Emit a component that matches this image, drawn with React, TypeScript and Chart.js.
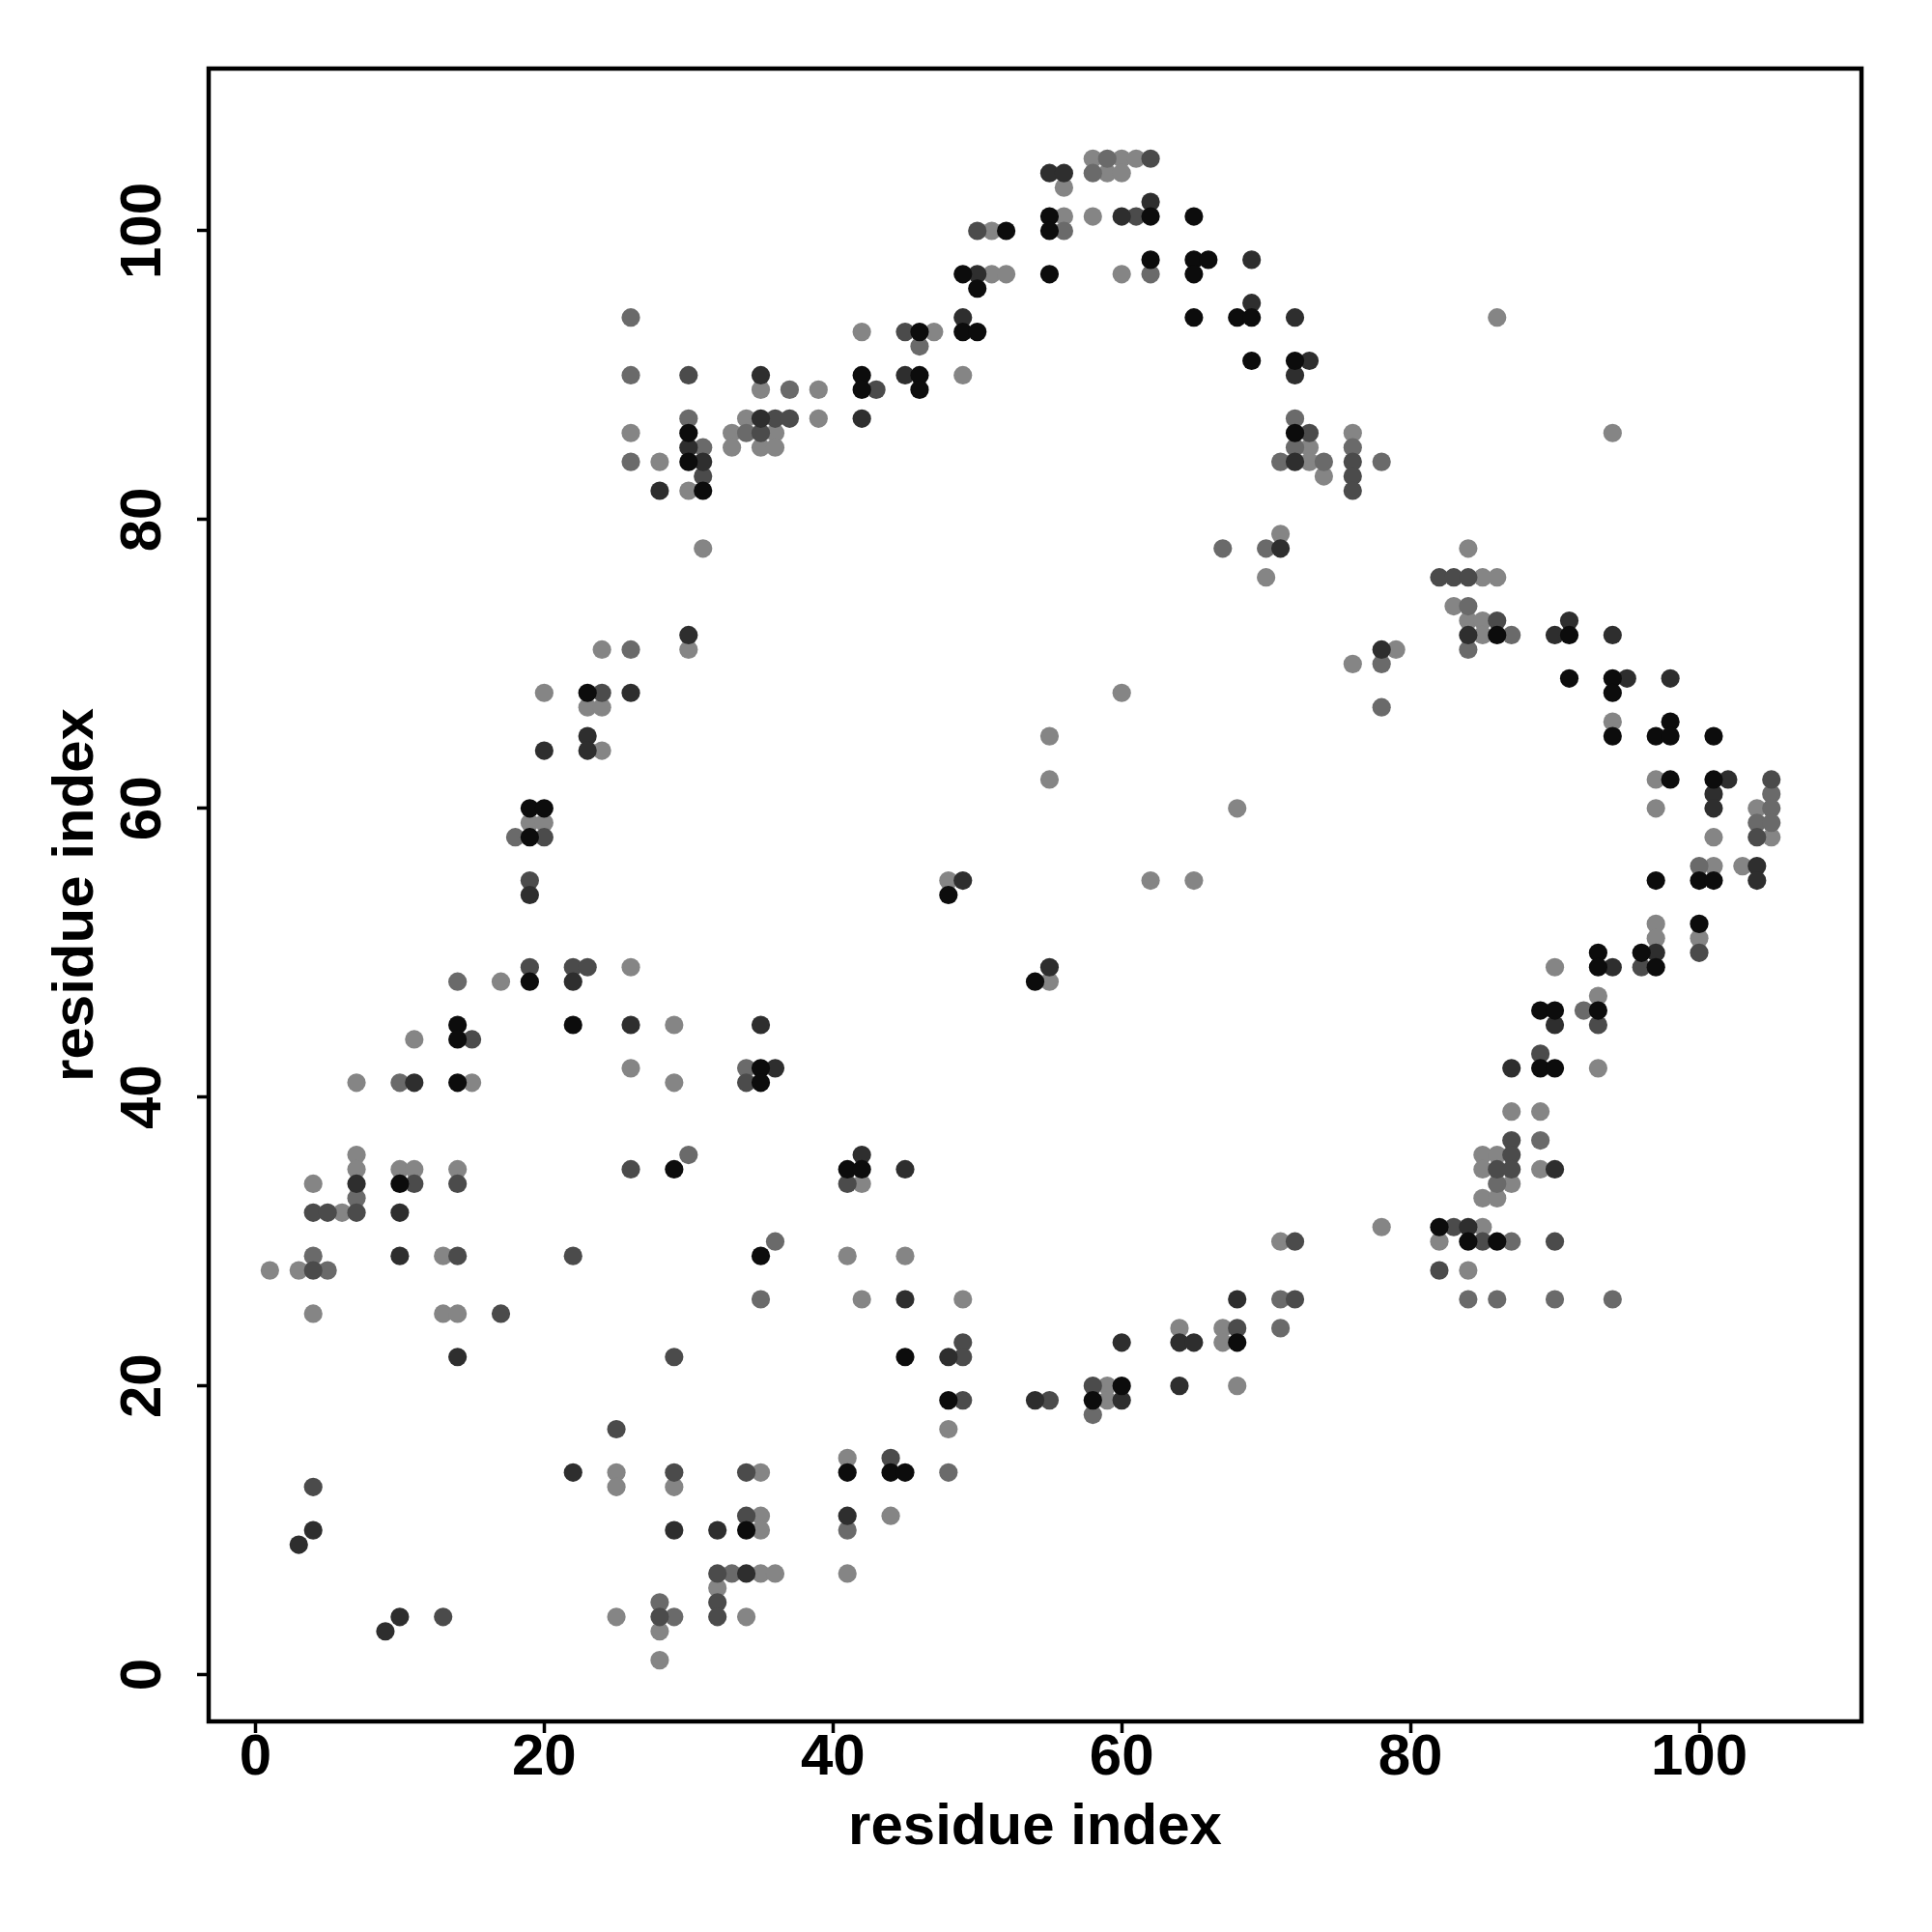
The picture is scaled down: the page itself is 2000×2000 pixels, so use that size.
import React, { useEffect, useRef } from "react";
import { Chart, registerables } from "chart.js";

Chart.register(...registerables);

type Pt = [number, number];

// Contact points grouped by gray shade (x = residue index, y = residue index)
const shadeA: Pt[] = [
  [30, 86], [30, 84], [31, 82],
  [55, 101], [62, 101], [65, 101], [52, 100], [55, 100], [62, 98], [65, 98], [66, 98], [49, 97], [55, 97], [65, 97], [50, 96], [65, 94], [68, 94], [69, 94], [46, 93], [49, 93], [50, 93], [69, 91], [42, 90], [46, 90], [42, 89], [46, 89],
  [72, 91], [72, 86],
  [23, 68], [19, 60], [20, 60], [19, 58],
  [48, 54],
  [86, 72], [91, 72], [91, 69], [94, 69], [94, 68], [98, 66], [94, 65], [97, 65], [98, 65], [101, 65], [98, 62], [101, 62], [97, 55], [100, 55], [101, 55], [100, 52],
  [19, 48], [14, 45], [22, 45], [14, 44], [35, 42], [14, 41], [35, 41], [29, 35], [10, 34], [35, 29],
  [54, 48], [41, 35], [42, 35],
  [93, 50], [96, 50], [93, 49], [97, 49], [89, 46], [90, 46], [93, 46], [89, 42], [90, 42], [82, 31], [84, 30], [86, 30],
  [34, 10],
  [45, 22], [48, 19], [58, 19], [60, 20], [68, 23], [41, 14], [44, 14], [45, 14],
];

const shadeB: Pt[] = [
  [30, 85], [31, 84], [28, 82],
  [55, 104], [56, 104], [62, 102], [60, 101], [50, 97], [69, 98], [49, 94], [45, 90], [35, 90], [42, 87], [35, 87], [69, 95],
  [72, 94], [73, 91], [72, 90], [72, 84],
  [30, 72], [26, 68], [23, 65], [23, 64], [20, 64], [19, 54],
  [49, 55], [71, 78],
  [84, 72], [90, 72], [94, 72], [78, 71], [91, 73], [95, 69], [98, 69], [102, 62], [101, 61], [101, 60], [104, 56], [104, 55],
  [22, 48], [26, 45], [7, 34], [11, 41], [10, 32], [10, 29], [35, 45],
  [55, 49], [36, 42], [42, 36], [45, 35], [45, 26], [68, 26],
  [97, 50], [94, 49], [90, 45], [87, 42], [90, 35], [84, 31],
  [14, 22], [22, 14], [4, 10], [3, 9], [29, 10], [32, 10], [34, 7], [10, 4], [9, 3],
  [60, 23], [64, 23], [65, 23], [48, 22], [54, 19], [60, 19], [64, 20], [41, 11],
];

const shadeC: Pt[] = [
  [30, 90], [31, 83],
  [50, 100], [45, 93], [61, 101], [62, 105], [43, 89], [36, 87], [37, 87], [35, 86],
  [73, 86], [76, 84], [76, 83], [76, 82],
  [24, 68], [20, 58], [19, 55],
  [82, 76], [83, 76], [84, 76], [86, 73], [104, 58], [105, 62],
  [19, 49], [22, 49], [23, 49], [15, 44], [34, 41], [26, 35], [11, 34], [14, 34], [4, 32], [5, 32], [7, 32], [14, 29], [22, 29], [4, 28], [17, 25],
  [41, 34],
  [100, 50], [96, 49], [93, 45], [89, 43], [87, 37], [87, 36], [86, 35], [87, 35], [83, 31], [85, 30], [90, 30], [72, 30], [82, 28], [72, 26],
  [29, 22], [25, 17], [29, 14], [34, 14], [4, 13], [34, 11], [32, 7], [32, 5], [28, 4], [13, 4], [32, 4],
  [49, 23], [49, 22], [68, 24], [58, 20], [49, 19], [55, 19], [44, 15],
];

const shadeD: Pt[] = [
  [26, 94], [26, 90], [26, 84], [30, 87], [31, 85], [34, 86],
  [59, 105], [58, 104], [56, 100], [46, 92], [37, 89], [62, 97],
  [72, 87], [72, 85], [71, 84], [74, 84], [76, 85], [78, 84],
  [26, 71], [18, 58],
  [67, 78], [70, 78],
  [84, 74], [87, 72], [84, 71], [78, 70], [78, 67], [105, 61], [105, 60], [104, 59], [105, 59], [100, 56],
  [14, 48], [10, 41], [30, 36], [7, 33], [4, 29], [5, 28], [34, 42],
  [36, 30], [35, 26], [71, 26],
  [92, 46], [89, 37], [86, 34], [87, 30], [84, 26], [86, 26], [90, 26], [94, 26],
  [28, 5], [29, 4], [33, 7],
  [41, 10], [48, 14], [58, 18], [71, 24],
];

const shadeE: Pt[] = [
  [26, 86], [28, 84], [30, 82], [33, 86], [33, 85], [34, 87],
  [58, 105], [60, 105], [61, 105], [59, 104], [60, 104], [56, 103], [56, 101], [58, 101], [51, 100], [51, 97], [52, 97], [60, 97], [42, 93], [47, 93], [49, 90], [35, 89], [39, 89], [39, 87], [36, 86], [35, 85], [36, 85],
  [86, 94], [73, 85], [73, 84], [74, 83], [76, 86], [94, 86], [71, 79],
  [31, 78], [24, 71], [30, 71], [20, 68], [23, 67], [24, 67], [24, 64], [19, 59], [20, 59],
  [70, 76], [60, 68], [55, 65], [55, 62], [68, 60], [48, 55], [62, 55], [65, 55],
  [84, 78], [85, 76], [86, 76], [83, 74], [84, 73], [85, 73], [85, 72], [79, 71], [76, 70], [94, 66], [97, 62], [97, 60], [104, 60], [101, 58], [105, 58], [101, 56], [103, 56], [97, 52],
  [26, 49], [17, 48], [11, 44], [26, 42], [29, 45], [7, 41], [15, 41], [29, 41], [7, 36], [7, 35], [10, 35], [11, 35], [14, 35], [4, 34], [6, 32], [13, 29], [1, 28], [3, 28], [4, 25], [13, 25], [14, 25],
  [55, 48], [42, 34], [41, 29], [45, 29], [42, 26], [49, 26], [71, 30],
  [97, 51], [100, 51], [90, 49], [93, 47], [93, 42], [87, 39], [89, 39], [85, 36], [86, 36], [85, 35], [89, 35], [87, 34], [85, 33], [86, 33], [78, 31], [85, 31], [82, 30], [84, 28],
  [25, 14], [35, 14], [25, 13], [29, 13], [35, 11], [35, 10], [35, 7], [32, 6], [25, 4], [34, 4], [28, 3], [28, 1],
  [64, 24], [67, 24], [67, 23], [68, 20], [59, 20], [59, 19], [48, 17], [41, 15], [44, 11], [36, 7], [41, 7],
];

const shadeColors = ["#0c0c0c", "#2e2e2e", "#4b4b4b", "#6a6a6a", "#858585"];
const shadeSets: Pt[][] = [shadeA, shadeB, shadeC, shadeD, shadeE];

const tickValues = [0, 20, 40, 60, 80, 100];
const axisMin = -3.24;
const axisMax = 111.24;
const xTitle = "residue index";
const yTitle = "residue index";

const FONT = "'Liberation Sans', Arial, Helvetica, sans-serif";

const boxPlugin = {
  id: "plotBox",
  afterDatasetsDraw(chart: any) {
    const { ctx, chartArea } = chart;
    const { left, top, right, bottom } = chartArea;
    ctx.save();
    ctx.strokeStyle = "#000";
    ctx.lineWidth = 4.5;
    ctx.strokeRect(left, top, right - left, bottom - top);
    ctx.restore();
  },
};

export default function App() {
  const canvasRef = useRef<HTMLCanvasElement | null>(null);

  useEffect(() => {
    const canvas = canvasRef.current;
    if (!canvas) return;

    const datasets = shadeSets.map((pts, i) => ({
      label: "shade" + i,
      data: pts.map(([x, y]) => ({ x, y })),
      backgroundColor: shadeColors[i],
      borderColor: shadeColors[i],
      borderWidth: 0,
      pointRadius: 9.6,
      pointHoverRadius: 9.6,
    }));

    const tickFont = { family: FONT, size: 60, weight: "bold" as const, lineHeight: 1 };

    const chart = new Chart(canvas, {
      type: "scatter",
      data: { datasets },
      plugins: [boxPlugin],
      options: {
        responsive: false,
        animation: false,
        devicePixelRatio: 1,
        events: [],
        layout: { padding: { left: 0, top: 71, right: 73, bottom: 0 } },
        plugins: {
          legend: { display: false },
          tooltip: { enabled: false },
        },
        scales: {
          x: {
            type: "linear",
            min: axisMin,
            max: axisMax,
            afterBuildTicks: (scale: any) => {
              scale.ticks = tickValues.map((v) => ({ value: v }));
            },
            afterFit: (scale: any) => {
              scale.height = 218;
            },
            border: { display: false },
            grid: {
              drawOnChartArea: false,
              drawTicks: true,
              tickLength: 12,
              tickWidth: 3.5,
              tickColor: "#000",
            },
            ticks: {
              autoSkip: false,
              maxRotation: 0,
              minRotation: 0,
              color: "#000",
              font: tickFont,
              padding: -4,
            },
            title: {
              display: true,
              text: xTitle,
              color: "#000",
              font: tickFont,
              padding: { top: 0, bottom: 78 },
            },
          },
          y: {
            type: "linear",
            min: axisMin,
            max: axisMax,
            afterBuildTicks: (scale: any) => {
              scale.ticks = tickValues.map((v) => ({ value: v }));
            },
            afterFit: (scale: any) => {
              scale.width = 216;
            },
            border: { display: false },
            grid: {
              drawOnChartArea: false,
              drawTicks: true,
              tickLength: 12,
              tickWidth: 3.5,
              tickColor: "#000",
            },
            ticks: {
              autoSkip: false,
              minRotation: 90,
              maxRotation: 90,
              crossAlign: "center",
              color: "#000",
              font: tickFont,
              padding: 4,
            },
            title: {
              display: true,
              text: yTitle,
              color: "#000",
              font: tickFont,
              padding: { top: 49, bottom: 0 },
            },
          },
        },
      } as any,
    });

    return () => {
      chart.destroy();
    };
  }, []);

  return (
    <div
      style={{
        position: "absolute",
        left: 0,
        top: 0,
        width: 2000,
        height: 2000,
        background: "#ffffff",
      }}
    >
      <canvas
        ref={canvasRef}
        width={2000}
        height={2000}
        style={{ width: 2000, height: 2000, display: "block" }}
      />
    </div>
  );
}
